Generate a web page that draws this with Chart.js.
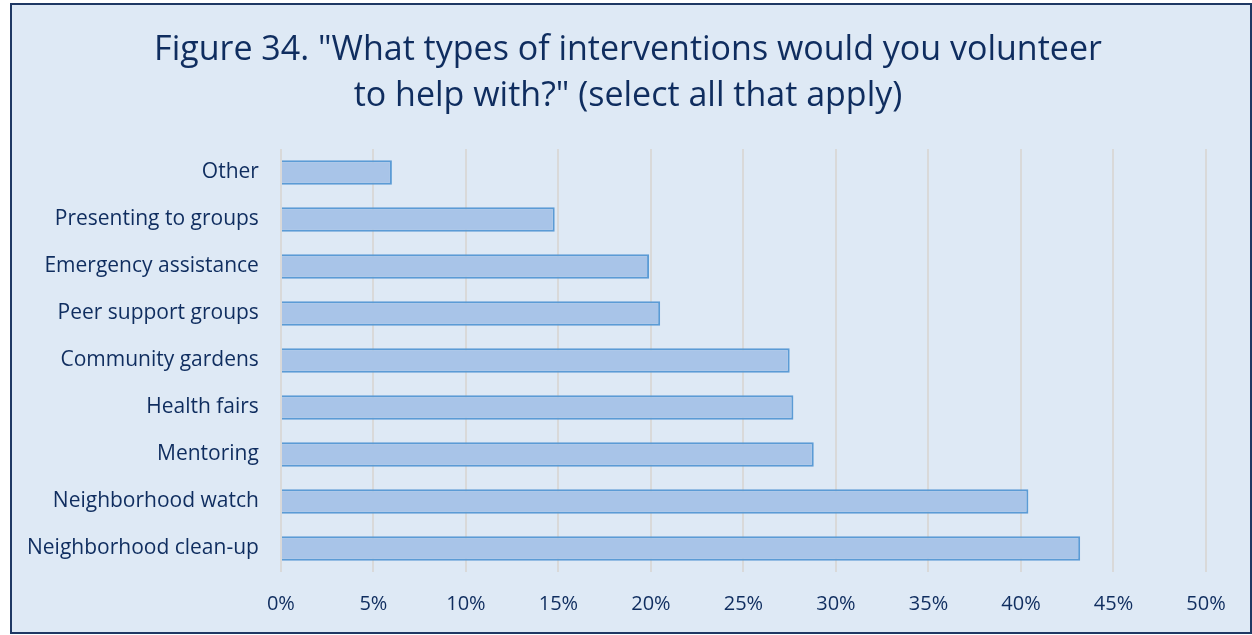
<!DOCTYPE html>
<html>
<head>
<meta charset="utf-8">
<script src="https://cdn.jsdelivr.net/npm/chart.js@4"></script>
<style>
  html, body { margin: 0; padding: 0; background: #ffffff; }
  #box {
    position: absolute; left: 10px; top: 3px;
    width: 1238px; height: 627px;
    border: 2px solid #1f3864;
    background: #dee9f5;
  }
  #chart { display: block; }
  #title {
    position: absolute; left: 0; top: 19px; width: 1232px;
    text-align: center;
    font-family: 'Open Sans', sans-serif; font-size: 34px; line-height: 46px;
    color: #0f2d5f;
  }
</style>
</head>
<body>
<div id="box">
  <canvas id="chart" width="1238" height="627"></canvas>
  <div id="title"></div>
</div>
<script>
const categories = ["Other", "Presenting to groups", "Emergency assistance", "Peer support groups",
  "Community gardens", "Health fairs", "Mentoring", "Neighborhood watch", "Neighborhood clean-up"];
const percents = [6.0, 14.8, 19.9, 20.5, 27.5, 27.7, 28.8, 40.4, 43.2];
const titleLines = ['Figure 34. "What types of interventions would you volunteer', 'to help with?" (select all that apply)'];

const navy = '#0f2d5f';

// title sits a little right of the plot's centre, like the original
const titleEl = document.getElementById('title');
titleLines.forEach((line, i) => {
  if (i) titleEl.appendChild(document.createElement('br'));
  titleEl.appendChild(document.createTextNode(line));
});

function barFill(ctx) {
  const chart = ctx.chart;
  const el = ctx.element;
  if (!chart.chartArea || !el || !el.height) return '#a8c4e8';
  const top = el.y - el.height / 2, bottom = el.y + el.height / 2;
  const g = chart.ctx.createLinearGradient(0, top, 0, bottom);
  g.addColorStop(0, '#b9d0ec');
  g.addColorStop(1, '#96b8e4');
  return g;
}

new Chart(document.getElementById('chart'), {
  type: 'bar',
  data: {
    labels: categories,
    datasets: [{
      data: percents,
      backgroundColor: barFill,
      borderColor: '#5b9bd5',
      borderWidth: 2,
      borderSkipped: 'start',
      categoryPercentage: 0.52,
      barPercentage: 1.0
    }]
  },
  options: {
    indexAxis: 'y',
    responsive: false,
    animation: false,
    layout: { padding: { left: -7, right: 44, top: 144, bottom: -4 } },
    plugins: {
      legend: { display: false },
      tooltip: { enabled: false },
      title: { display: false }
    },
    scales: {
      x: {
        min: 0, max: 50,
        ticks: {
          stepSize: 5,
          color: navy,
          font: { family: 'Open Sans', size: 20 },
          padding: 20,
          callback: v => v + '%'
        },
        grid: { color: '#d9d9d9', lineWidth: 2, drawTicks: false },
        border: { display: false }
      },
      y: {
        ticks: {
          color: navy,
          font: { family: 'Open Sans', size: 21 },
          padding: 22
        },
        grid: { display: false, drawTicks: false },
        border: { display: false }
      }
    }
  }
});
</script>
</body>
</html>
